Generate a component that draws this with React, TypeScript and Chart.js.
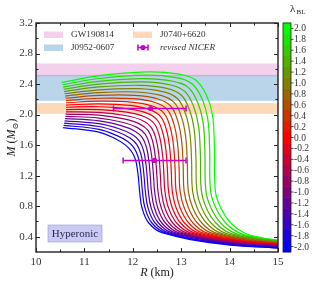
import React, { useEffect, useRef } from 'react';
import { Chart, registerables } from 'chart.js';
Chart.register(...registerables);

// lambda_BL values of the 21 curves
const lambdaValues = [-2.0, -1.8, -1.6, -1.4, -1.2, -1.0, -0.8, -0.6, -0.4, -0.2, 0.0, 0.2, 0.4, 0.6, 0.8, 1.0, 1.2, 1.4, 1.6, 1.8, 2.0];

// Mass-radius curves [R (km), M (Msun)]
const mr_m20 = [[10.56,1.83],[11.3,1.77],[11.65,1.68],[11.85,1.60],[11.97,1.52],[12.05,1.42],[12.09,1.30],[12.12,1.15],[12.14,1.00],[12.19,0.78],[12.33,0.58],[12.62,0.45],[13.81,0.305],[15,0.25]];
const mr_m18 = [[10.57,1.86],[11.3,1.807],[11.675,1.724],[11.895,1.647],[12.025,1.564],[12.106,1.454],[12.148,1.318],[12.178,1.151],[12.198,1.0],[12.251,0.78],[12.395,0.58],[12.684,0.45],[13.842,0.31],[15,0.255]];
const mr_m16 = [[10.58,1.889],[11.3,1.844],[11.702,1.768],[11.942,1.693],[12.081,1.609],[12.164,1.49],[12.208,1.338],[12.238,1.155],[12.258,1.0],[12.314,0.78],[12.461,0.58],[12.75,0.45],[13.875,0.314],[15,0.261]];
const mr_m14 = [[10.59,1.919],[11.3,1.881],[11.729,1.812],[11.989,1.74],[12.138,1.653],[12.224,1.525],[12.27,1.359],[12.30,1.16],[12.32,1.0],[12.379,0.78],[12.53,0.58],[12.818,0.45],[13.909,0.319],[15,0.266]];
const mr_m12 = [[10.60,1.948],[11.3,1.918],[11.756,1.856],[12.037,1.786],[12.197,1.698],[12.286,1.562],[12.334,1.382],[12.364,1.168],[12.384,1.0],[12.446,0.78],[12.60,0.58],[12.888,0.45],[13.944,0.324],[15,0.271]];
const mr_m10 = [[10.61,1.978],[11.3,1.955],[11.785,1.90],[12.086,1.833],[12.256,1.743],[12.349,1.599],[12.399,1.408],[12.43,1.178],[12.45,1.0],[12.515,0.78],[12.673,0.58],[12.96,0.45],[13.98,0.328],[15,0.276]];
const mr_m08 = [[10.61,2.007],[11.3,1.992],[11.814,1.944],[12.137,1.879],[12.318,1.789],[12.415,1.638],[12.468,1.434],[12.499,1.19],[12.519,1.0],[12.587,0.78],[12.748,0.58],[13.035,0.45],[14.018,0.333],[15,0.282]];
const mr_m06 = [[10.62,2.037],[11.3,2.029],[11.845,1.988],[12.189,1.926],[12.38,1.834],[12.482,1.676],[12.539,1.463],[12.57,1.205],[12.59,1.0],[12.661,0.78],[12.826,0.58],[13.112,0.45],[14.056,0.337],[15,0.287]];
const mr_m04 = [[10.62,2.066],[11.3,2.066],[11.876,2.032],[12.242,1.972],[12.444,1.88],[12.551,1.716],[12.611,1.494],[12.643,1.222],[12.663,1.0],[12.737,0.78],[12.905,0.58],[13.191,0.45],[14.096,0.342],[15,0.292]];
const mr_m02 = [[10.62,2.096],[11.3,2.103],[11.907,2.076],[12.295,2.019],[12.509,1.926],[12.622,1.756],[12.686,1.526],[12.718,1.241],[12.738,1.0],[12.815,0.78],[12.987,0.58],[13.272,0.45],[14.136,0.346],[15,0.297]];
const mr_p00 = [[10.62,2.125],[11.3,2.14],[11.94,2.12],[12.35,2.065],[12.575,1.973],[12.695,1.798],[12.763,1.56],[12.795,1.263],[12.815,1.0],[12.895,0.78],[13.07,0.58],[13.355,0.45],[14.178,0.35],[15,0.303]];
const mr_p02 = [[10.62,2.155],[11.3,2.177],[11.973,2.164],[12.405,2.112],[12.642,2.019],[12.769,1.839],[12.841,1.596],[12.874,1.286],[12.894,1.0],[12.977,0.78],[13.156,0.58],[13.44,0.45],[14.22,0.354],[15,0.308]];
const mr_p04 = [[10.62,2.184],[11.3,2.214],[12.008,2.208],[12.463,2.158],[12.711,2.066],[12.846,1.882],[12.922,1.634],[12.956,1.312],[12.976,1.0],[13.062,0.78],[13.244,0.58],[13.528,0.45],[14.264,0.359],[15,0.313]];
const mr_p06 = [[10.61,2.214],[11.3,2.251],[12.043,2.252],[12.521,2.205],[12.781,2.113],[12.925,1.925],[13.006,1.673],[13.04,1.34],[13.06,1.0],[13.149,0.78],[13.335,0.58],[13.618,0.45],[14.309,0.363],[15,0.318]];
const mr_p08 = [[10.60,2.243],[11.3,2.288],[12.078,2.296],[12.58,2.251],[12.853,2.161],[13.006,1.97],[13.091,1.714],[13.126,1.371],[13.146,1.0],[13.238,0.78],[13.427,0.58],[13.71,0.45],[14.355,0.367],[15,0.324]];
const mr_p10 = [[10.59,2.273],[11.3,2.325],[12.115,2.34],[12.64,2.298],[12.925,2.208],[13.088,2.014],[13.178,1.758],[13.214,1.403],[13.234,1.0],[13.329,0.78],[13.522,0.58],[13.804,0.45],[14.402,0.371],[15,0.329]];
const mr_p12 = [[10.58,2.302],[11.3,2.362],[12.152,2.384],[12.701,2.344],[12.999,2.256],[13.172,2.06],[13.268,1.802],[13.304,1.438],[13.324,1.0],[13.422,0.78],[13.618,0.58],[13.90,0.45],[14.45,0.375],[15,0.334]];
const mr_p14 = [[10.57,2.332],[11.3,2.399],[12.191,2.428],[12.763,2.391],[13.073,2.304],[13.257,2.106],[13.359,1.849],[13.396,1.475],[13.416,1.0],[13.517,0.78],[13.717,0.58],[13.998,0.45],[14.499,0.379],[15,0.339]];
const mr_p16 = [[10.56,2.361],[11.3,2.436],[12.23,2.472],[12.826,2.437],[13.149,2.353],[13.344,2.154],[13.452,1.898],[13.49,1.515],[13.51,1.0],[13.614,0.78],[13.817,0.58],[14.098,0.45],[14.549,0.383],[15,0.345]];
const mr_p18 = [[10.55,2.391],[11.3,2.473],[12.269,2.516],[12.89,2.484],[13.227,2.401],[13.434,2.201],[13.548,1.948],[13.587,1.556],[13.607,1.0],[13.714,0.78],[13.921,0.58],[14.201,0.45],[14.60,0.386],[15,0.35]];
const mr_p20 = [[10.53,2.42],[11.3,2.51],[12.31,2.56],[12.955,2.53],[13.305,2.45],[13.525,2.25],[13.645,2.0],[13.685,1.6],[13.705,1.0],[13.815,0.78],[14.025,0.58],[14.305,0.45],[14.65,0.39],[15,0.355]];

const curves = [mr_m20, mr_m18, mr_m16, mr_m14, mr_m12, mr_m10, mr_m08, mr_m06, mr_m04, mr_m02, mr_p00, mr_p02, mr_p04, mr_p06, mr_p08, mr_p10, mr_p12, mr_p14, mr_p16, mr_p18, mr_p20];

// Mass constraint bands [Mlow, Mhigh]
const bandNames = ['GW190814', 'J0952-0607', 'J0740+6620'];
const bandLow = [2.50, 2.18, 2.01];
const bandHigh = [2.67, 2.52, 2.15];
const bandColors = ['rgba(228,150,210,0.45)', 'rgba(110,165,210,0.48)', 'rgba(253,170,100,0.45)'];

// revised NICER points
const nicerR = [12.37, 12.45];
const nicerM = [2.08, 1.40];
const nicerRlow = [11.60, 11.80];
const nicerRhigh = [13.10, 13.10];

// Axes ticks
const xTicks = [10, 11, 12, 13, 14, 15];
const xMinor = [10.5, 11.5, 12.5, 13.5, 14.5];
const yTicks = [0.4, 0.8, 1.2, 1.6, 2.0, 2.4, 2.8, 3.2];
const yMinor = [0.6, 1.0, 1.4, 1.8, 2.2, 2.6, 3.0];
const cbTicks = [2.0, 1.8, 1.6, 1.4, 1.2, 1.0, 0.8, 0.6, 0.4, 0.2, 0.0, -0.2, -0.4, -0.6, -0.8, -1.0, -1.2, -1.4, -1.6, -1.8, -2.0];

const SERIF = '"Liberation Serif", "DejaVu Serif", serif';
const NICER_COLOR = '#c800c8';

function lambdaColor(l: number): string {
  if (l <= 0) {
    const f = (l + 2) / 2;
    return `rgb(${Math.round(255 * f)},0,${Math.round(255 * (1 - f))})`;
  }
  const f = l / 2;
  return `rgb(${Math.round(255 * (1 - f))},${Math.round(255 * f)},0)`;
}

type Part = { t: string; italic?: boolean; sub?: boolean };
function drawRich(ctx: CanvasRenderingContext2D, parts: Part[], cx: number, cy: number, size: number) {
  const fontOf = (p: Part) => `${p.italic ? 'italic ' : ''}${p.sub ? size * 0.7 : size}px ${SERIF}`;
  let total = 0;
  parts.forEach((p) => { ctx.font = fontOf(p); total += ctx.measureText(p.t).width; });
  let x = cx - total / 2;
  ctx.textBaseline = 'middle';
  ctx.textAlign = 'left';
  parts.forEach((p) => {
    ctx.font = fontOf(p);
    ctx.fillText(p.t, x, cy + (p.sub ? size * 0.3 : 0));
    x += ctx.measureText(p.t).width;
  });
}

function drawErrorbar(ctx: CanvasRenderingContext2D, x0: number, x1: number, xc: number, y: number) {
  ctx.strokeStyle = NICER_COLOR;
  ctx.fillStyle = NICER_COLOR;
  ctx.lineWidth = 1.5;
  ctx.beginPath();
  ctx.moveTo(x0, y); ctx.lineTo(x1, y);
  ctx.moveTo(x0, y - 3); ctx.lineTo(x0, y + 3);
  ctx.moveTo(x1, y - 3); ctx.lineTo(x1, y + 3);
  ctx.stroke();
  ctx.beginPath();
  ctx.arc(xc, y, 2.6, 0, Math.PI * 2);
  ctx.fill();
}

const customPlugin = {
  id: 'customDecor',
  beforeDatasetsDraw(chart: any) {
    const { ctx, chartArea: a, scales } = chart;
    ctx.save();
    for (let k = 0; k < bandNames.length; k++) {
      const yTop = scales.y.getPixelForValue(bandHigh[k]);
      const yBot = scales.y.getPixelForValue(bandLow[k]);
      ctx.fillStyle = bandColors[k];
      ctx.fillRect(a.left, yTop, a.right - a.left, yBot - yTop);
    }
    ctx.restore();
  },
  afterDatasetsDraw(chart: any) {
    const { ctx, scales } = chart;
    ctx.save();
    for (let k = 0; k < nicerR.length; k++) {
      drawErrorbar(ctx, scales.x.getPixelForValue(nicerRlow[k]), scales.x.getPixelForValue(nicerRhigh[k]),
        scales.x.getPixelForValue(nicerR[k]), scales.y.getPixelForValue(nicerM[k]));
    }
    ctx.restore();
  },
  afterDraw(chart: any) {
    const { ctx, chartArea: a, scales } = chart;
    ctx.save();
    // frame
    ctx.strokeStyle = '#222';
    ctx.lineWidth = 1.4;
    ctx.strokeRect(a.left, a.top, a.right - a.left, a.bottom - a.top);
    // inward ticks
    ctx.lineWidth = 1;
    ctx.beginPath();
    const tickX = (v: number, len: number) => {
      const px = Math.round(scales.x.getPixelForValue(v)) + 0.5;
      ctx.moveTo(px, a.bottom); ctx.lineTo(px, a.bottom - len);
      ctx.moveTo(px, a.top); ctx.lineTo(px, a.top + len);
    };
    const tickY = (v: number, len: number) => {
      const py = Math.round(scales.y.getPixelForValue(v)) + 0.5;
      ctx.moveTo(a.left, py); ctx.lineTo(a.left + len, py);
      ctx.moveTo(a.right, py); ctx.lineTo(a.right - len, py);
    };
    xTicks.forEach((v) => tickX(v, 4));
    xMinor.forEach((v) => tickX(v, 2.5));
    yTicks.forEach((v) => tickY(v, 4));
    yMinor.forEach((v) => tickY(v, 2.5));
    ctx.stroke();

    // axis titles
    ctx.fillStyle = '#222';
    drawRich(ctx, [{ t: 'R', italic: true }, { t: ' (km)' }], (a.left + a.right) / 2, 273, 12);
    ctx.save();
    ctx.translate(12, (a.top + a.bottom) / 2);
    ctx.rotate(-Math.PI / 2);
    drawRich(ctx, [{ t: 'M', italic: true }, { t: ' (' }, { t: 'M', italic: true }, { t: '⊙', sub: true }, { t: ')' }], 0, 0, 12);
    ctx.restore();

    // legend
    const rowY = [a.top + 11.5, a.top + 24.5];
    const patchX = [a.left + 8, a.left + 97];
    const textX = [a.left + 35, a.left + 124];
    const legendItems = [
      { name: bandNames[0], color: bandColors[0], col: 0, row: 0 },
      { name: bandNames[2], color: bandColors[2], col: 1, row: 0 },
      { name: bandNames[1], color: bandColors[1], col: 0, row: 1 },
    ];
    ctx.textBaseline = 'middle';
    legendItems.forEach((it) => {
      ctx.fillStyle = it.color;
      ctx.fillRect(patchX[it.col], rowY[it.row] - 3, 19, 6.5);
      ctx.fillStyle = '#333';
      ctx.font = `9.2px ${SERIF}`;
      ctx.fillText(it.name, textX[it.col], rowY[it.row] + 0.5);
    });
    drawErrorbar(ctx, patchX[1] + 5, patchX[1] + 15, patchX[1] + 10, rowY[1]);
    ctx.fillStyle = '#333';
    ctx.font = `italic 9.2px ${SERIF}`;
    ctx.fillText('revised NICER', textX[1], rowY[1] + 0.5);

    // Hyperonic label box
    const bx = a.left + 12, by = a.bottom - 27, bw = 54, bh = 17;
    ctx.fillStyle = 'rgba(150,150,235,0.5)';
    ctx.fillRect(bx, by, bw, bh);
    ctx.strokeStyle = 'rgba(150,150,220,0.7)';
    ctx.lineWidth = 0.8;
    ctx.strokeRect(bx, by, bw, bh);
    ctx.fillStyle = '#2a2a55';
    ctx.font = `11px ${SERIF}`;
    ctx.textAlign = 'center';
    ctx.fillText('Hyperonic', bx + bw / 2, by + bh / 2 + 0.5);
    ctx.textAlign = 'left';

    // colorbar
    const cbL = a.right + 5, cbR = a.right + 13, cbT = a.top, cbB = a.bottom;
    const n = lambdaValues.length;
    const step = (cbB - cbT) / n;
    for (let k = 0; k < n; k++) {
      const lam = lambdaValues[k];
      const yb = cbB - k * step;
      ctx.fillStyle = lambdaColor(lam);
      ctx.fillRect(cbL, yb - step - 0.3, cbR - cbL, step + 0.6);
    }
    ctx.strokeStyle = '#222';
    ctx.lineWidth = 0.8;
    ctx.strokeRect(cbL, cbT, cbR - cbL, cbB - cbT);
    const lamMin = -2.1, lamMax = 2.1;
    ctx.font = `9.5px ${SERIF}`;
    ctx.fillStyle = '#333';
    ctx.textBaseline = 'middle';
    ctx.beginPath();
    cbTicks.forEach((v) => {
      const y = cbT + ((lamMax - v) / (lamMax - lamMin)) * (cbB - cbT);
      ctx.moveTo(cbR, y); ctx.lineTo(cbR + 2.5, y);
      ctx.fillText(v.toFixed(1), cbR + 3, y + 0.5);
    });
    ctx.stroke();
    // colorbar title
    ctx.font = `11px ${SERIF}`;
    ctx.fillStyle = '#222';
    ctx.fillText('λ', cbL + 7, 9);
    ctx.font = `7px ${SERIF}`;
    ctx.fillText('BL', cbL + 13.5, 12);
    ctx.restore();
  },
};

export default function App() {
  const ref = useRef<HTMLCanvasElement>(null);
  useEffect(() => {
    const canvas = ref.current;
    if (!canvas) return;
    const chart = new Chart(canvas, {
      type: 'scatter',
      data: {
        datasets: curves.map((pts, k) => ({
          label: `λ=${lambdaValues[k]}`,
          data: pts.map(([x, y]) => ({ x, y })),
          showLine: true,
          borderColor: lambdaColor(lambdaValues[k]),
          backgroundColor: lambdaColor(lambdaValues[k]),
          borderWidth: 1.2,
          pointRadius: 0,
          tension: 0.4,
          fill: false,
        })),
      },
      options: {
        animation: false,
        responsive: false,
        devicePixelRatio: 1,
        events: [],
        layout: { padding: { left: 0, right: 39, top: 23, bottom: 0 } },
        plugins: { legend: { display: false }, tooltip: { enabled: false }, title: { display: false } },
        scales: {
          x: {
            type: 'linear',
            min: 10,
            max: 15,
            grid: { display: false, drawTicks: false },
            border: { display: false },
            afterBuildTicks: (s: any) => { s.ticks = xTicks.map((v) => ({ value: v })); },
            afterFit: (s: any) => { s.height = 32; },
            ticks: { padding: 4, color: '#333', font: { family: SERIF, size: 11 }, callback: (v: any) => String(Math.round(Number(v))) },
          },
          y: {
            type: 'linear',
            min: 0.2,
            max: 3.2,
            grid: { display: false, drawTicks: false },
            border: { display: false },
            afterBuildTicks: (s: any) => { s.ticks = yTicks.map((v) => ({ value: v })); },
            afterFit: (s: any) => { s.width = 36; },
            ticks: { padding: 3, color: '#333', font: { family: SERIF, size: 11 }, callback: (v: any) => Number(v).toFixed(1) },
          },
        },
      },
      plugins: [customPlugin],
    } as any);
    return () => chart.destroy();
  }, []);
  return (
    <div style={{ position: 'absolute', left: 0, top: 0, width: 317, height: 284, background: '#fff' }}>
      <canvas ref={ref} width={317} height={284} style={{ display: 'block', width: 317, height: 284 }} />
    </div>
  );
}
